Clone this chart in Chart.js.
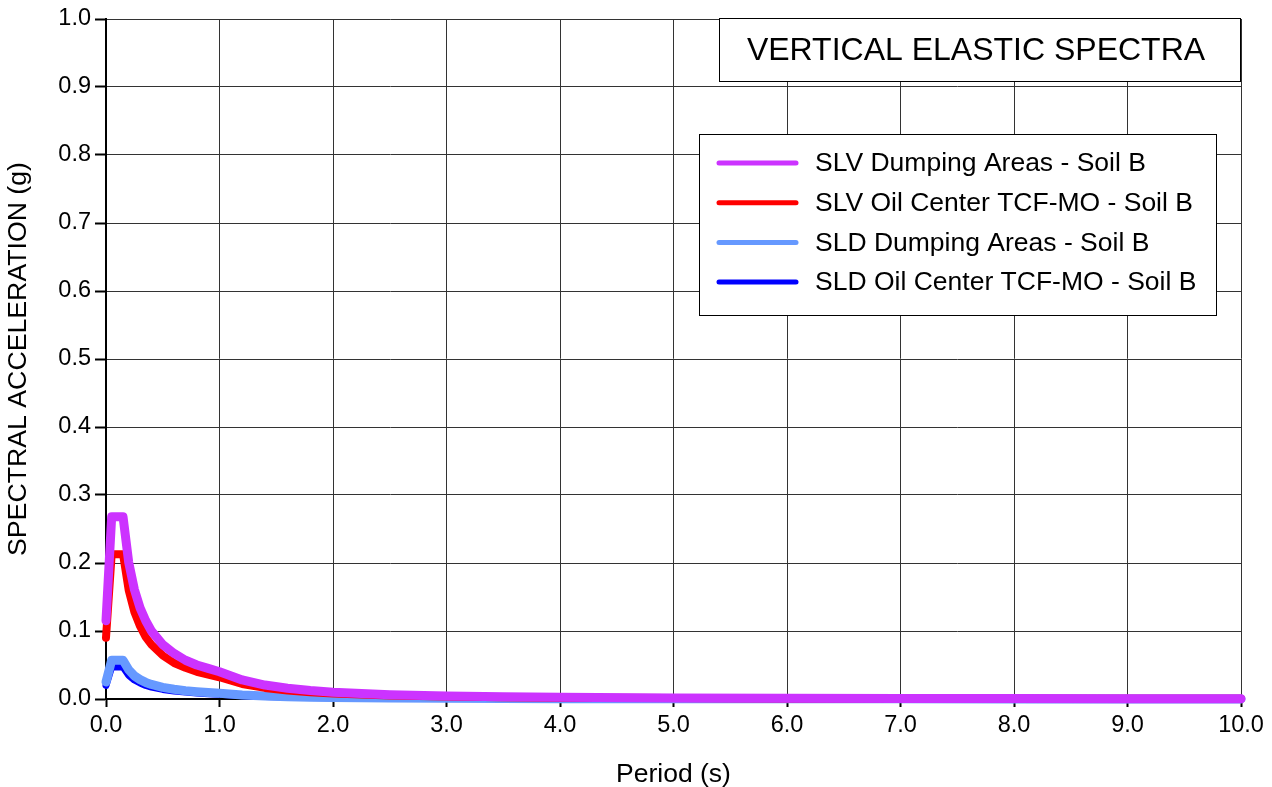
<!DOCTYPE html>
<html>
<head>
<meta charset="utf-8">
<script src="https://cdn.jsdelivr.net/npm/chart.js@4.4.0/dist/chart.umd.min.js"></script>
<style>
  html, body { margin: 0; padding: 0; background: #fff; }
  #wrap { width: 1272px; height: 787px; position: relative; }
</style>
</head>
<body>
<div id="wrap"><canvas id="c" width="1272" height="787"></canvas></div>
<script>
// ---- Data ----
const chartTitle = "VERTICAL ELASTIC SPECTRA";
const xTitle = "Period (s)";
const yTitle = "SPECTRAL ACCELERATION (g)";

const periods = [0, 0.05, 0.15, 0.2, 0.25, 0.3, 0.35, 0.4, 0.5, 0.6, 0.7, 0.8, 0.9, 1.0,
                 1.2, 1.4, 1.6, 1.8, 2.0, 2.5, 3.0, 3.5, 4.0, 5.0, 6.0, 7.0, 8.0, 9.0, 10.0];

const slvDumping = [0.115, 0.268, 0.268, 0.201, 0.161, 0.134, 0.115, 0.100, 0.080, 0.067, 0.057, 0.050, 0.045, 0.040,
                    0.028, 0.0205, 0.0157, 0.0124, 0.010, 0.0064, 0.0045, 0.0033, 0.0025, 0.0016, 0.0011, 0.0008, 0.0006, 0.0005, 0.0004];

const slvOilCenter = [0.090, 0.213, 0.213, 0.160, 0.128, 0.107, 0.091, 0.080, 0.064, 0.053, 0.046, 0.040, 0.036, 0.032,
                      0.022, 0.0163, 0.0125, 0.0099, 0.008, 0.0051, 0.0036, 0.0026, 0.0020, 0.0013, 0.0009, 0.00065, 0.0005, 0.0004, 0.0003];

const sldDumping = [0.025, 0.057, 0.057, 0.043, 0.034, 0.0285, 0.0244, 0.0214, 0.0171, 0.0143, 0.0122, 0.0107, 0.0095, 0.0086,
                    0.0060, 0.0044, 0.0034, 0.0026, 0.0021, 0.0014, 0.0010, 0.0007, 0.0005, 0.0003, 0.0002, 0.0002, 0.0001, 0.0001, 0.0001];

const sldOilCenter = [0.020, 0.047, 0.047, 0.035, 0.028, 0.0235, 0.0200, 0.0176, 0.0141, 0.0118, 0.0101, 0.0088, 0.0078, 0.0070,
                      0.0049, 0.0036, 0.0028, 0.0022, 0.0018, 0.0011, 0.0008, 0.0006, 0.0004, 0.0003, 0.0002, 0.0001, 0.0001, 0.0001, 0.0001];

const seriesLabels = ["SLV Dumping Areas - Soil B", "SLV Oil Center TCF-MO - Soil B",
                      "SLD Dumping Areas - Soil B", "SLD Oil Center TCF-MO - Soil B"];
const seriesValues = [slvDumping, slvOilCenter, sldDumping, sldOilCenter];
const seriesColors = ["#CC33FF", "#FF0000", "#6699FF", "#0000FF"];
const seriesWidths = [9, 8, 9, 7];

const FONT = "'Liberation Sans', Arial, Helvetica, sans-serif";

const datasets = seriesLabels.map((lab, i) => ({
  label: lab,
  data: periods.map((p, j) => ({ x: p, y: seriesValues[i][j] })),
  borderColor: seriesColors[i],
  backgroundColor: seriesColors[i],
  borderWidth: seriesWidths[i],
  borderCapStyle: 'round',
  borderJoinStyle: 'round',
  pointRadius: 0,
  tension: 0,
  fill: false,
  clip: 8
}));

const boxesPlugin = {
  id: 'boxes',
  afterDraw(chart) {
    const ctx = chart.ctx;
    const ca = chart.chartArea;
    ctx.save();
    // Title box
    const tx = 719, ty = ca.top - 1, tw = ca.right - 719, th = 64;
    ctx.fillStyle = '#fff';
    ctx.fillRect(tx, ty, tw, th);
    ctx.strokeStyle = '#000';
    ctx.lineWidth = 1;
    ctx.strokeRect(tx + 0.5, ty + 0.5, tw - 1, th - 1);
    ctx.fillStyle = '#000';
    ctx.font = '32px ' + FONT;
    ctx.textAlign = 'center';
    ctx.textBaseline = 'middle';
    ctx.fillText(chartTitle, tx + tw / 2 - 4, ty + th / 2 + 1);

    // Legend box
    const lx = 699, ly = 134, lw = 518, lh = 182;
    ctx.fillStyle = '#fff';
    ctx.fillRect(lx, ly, lw, lh);
    ctx.strokeStyle = '#000';
    ctx.strokeRect(lx + 0.5, ly + 0.5, lw - 1, lh - 1);
    ctx.font = '26.5px ' + FONT;
    ctx.textAlign = 'left';
    ctx.textBaseline = 'middle';
    chart.data.datasets.forEach((ds, i) => {
      const cy = 163 + i * 39.7;
      ctx.strokeStyle = ds.borderColor;
      ctx.lineWidth = 5;
      ctx.lineCap = 'round';
      ctx.beginPath();
      ctx.moveTo(719, cy);
      ctx.lineTo(796, cy);
      ctx.stroke();
      ctx.fillStyle = '#000';
      ctx.fillText(ds.label, 815, cy + 1);
    });
    ctx.restore();
  }
};

new Chart(document.getElementById('c'), {
  type: 'line',
  data: { datasets },
  plugins: [boxesPlugin],
  options: {
    responsive: false,
    animation: false,
    events: [],
    layout: { padding: { top: 19, right: 31, left: 0, bottom: 0 } },
    plugins: { legend: { display: false }, title: { display: false }, tooltip: { enabled: false } },
    scales: {
      x: {
        type: 'linear',
        min: 0, max: 10,
        afterFit(scale) { scale.height = 88; },
        ticks: {
          stepSize: 1,
          color: '#000',
          font: { family: FONT, size: 23.5 },
          padding: 4,
          maxRotation: 0,
          callback: v => Number(v).toFixed(1)
        },
        grid: { color: '#333', lineWidth: 1, tickLength: 8, tickColor: '#000', tickWidth: 2 },
        border: { color: '#000', width: 2 },
        title: { display: true, text: xTitle, color: '#000', font: { family: FONT, size: 26.5 }, padding: { top: -4, bottom: -4 } }
      },
      y: {
        min: 0, max: 1,
        afterFit(scale) { scale.width = 106; },
        ticks: {
          stepSize: 0.1,
          color: '#000',
          font: { family: FONT, size: 23.5 },
          padding: 4,
          callback: v => Number(v).toFixed(1)
        },
        grid: { color: '#333', lineWidth: 1, tickLength: 11, tickColor: '#000', tickWidth: 2 },
        border: { color: '#000', width: 2 },
        title: { display: true, text: yTitle, color: '#000', font: { family: FONT, size: 26.7 }, padding: { top: 3, bottom: 3 } }
      }
    }
  }
});
</script>
</body>
</html>
